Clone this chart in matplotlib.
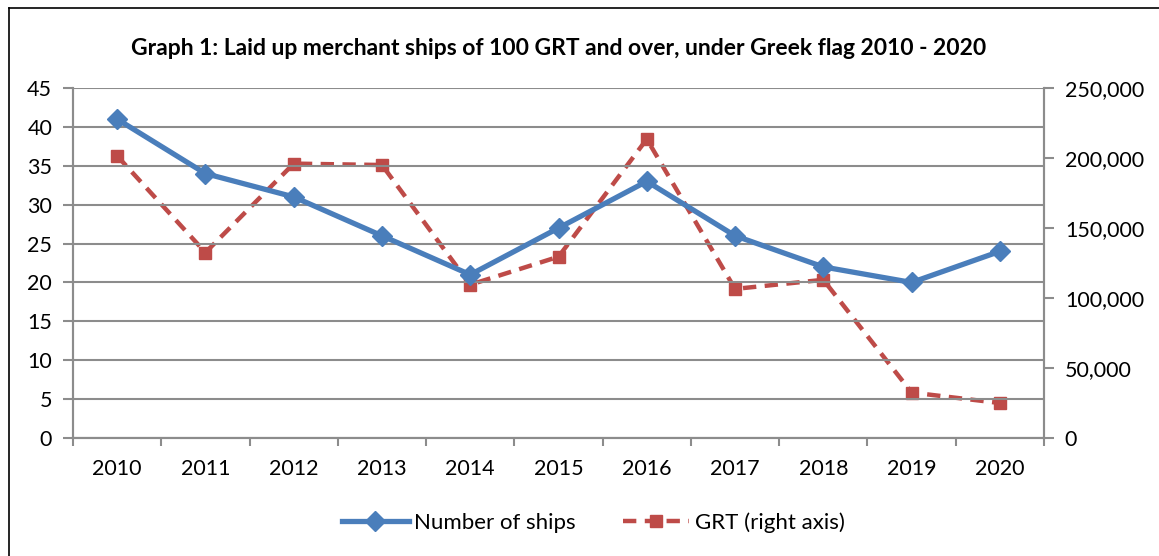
#!/usr/bin/env python3
"""Laid up merchant ships under Greek flag, 2010-2020."""

import numpy as np
import matplotlib
matplotlib.use('Agg')
import matplotlib.pyplot as plt
from matplotlib.ticker import FuncFormatter, FixedLocator

years = ['2010', '2011', '2012', '2013', '2014', '2015', '2016',
         '2017', '2018', '2019', '2020']
ships = [41, 34, 31, 26, 21, 27, 33, 26, 22, 20, 24]
grt = [201500, 132500, 196000, 195000, 109500, 129500, 213500,
       106500, 113000, 32500, 25000]

plt.rcParams['font.family'] = ['Lato', 'DejaVu Sans']

fig = plt.figure(figsize=(11.59, 5.56), dpi=100)
ax = fig.add_axes([0.063, 0.2122, 0.8378, 0.6295])
ax2 = ax.twinx()

x = np.arange(len(years))
blue = '#4A7EBB'
red = '#BE4B48'
grey = '#8C8C8C'

l1, = ax.plot(x, ships, color=blue, lw=3.8, marker='D', ms=10,
              label='Number of ships', zorder=3)
l2, = ax2.plot(x, grt, color=red, lw=3.2, ls=(0, (3.0, 1.9)), marker='s',
               ms=8.5, label='GRT (right axis)', zorder=2)
ax.set_zorder(ax2.get_zorder() + 1)
ax.patch.set_visible(False)

ax.set_xlim(-0.5, len(years) - 0.5)
ax.set_ylim(0, 45)
ax.set_yticks(range(0, 46, 5))
ax2.set_ylim(0, 250000)
ax2.set_yticks(range(0, 250001, 50000))
ax2.yaxis.set_major_formatter(FuncFormatter(lambda v, p: f'{int(v):,}'))

# category boundaries as ticks, labels in between
ax.xaxis.set_major_locator(FixedLocator(np.arange(-0.5, len(years), 1)))
ax.xaxis.set_major_formatter(FuncFormatter(lambda v, p: ''))
ax.set_xticks(x, minor=True)
ax.set_xticklabels(years, minor=True)
ax.tick_params(axis='x', which='minor', length=0, pad=15, labelsize=15.5)
ax.tick_params(axis='x', which='major', length=6, color=grey, width=1.5)
ax.tick_params(axis='y', length=7, color=grey, width=1.5, labelsize=15.5, pad=8)
ax2.tick_params(axis='y', length=7, color=grey, width=1.5, labelsize=15.5, pad=8)

ax.grid(axis='y', color=grey, lw=1.5)
ax.set_axisbelow(True)
for a in (ax, ax2):
    for s in a.spines.values():
        s.set_color(grey)
        s.set_linewidth(1.5)
    a.spines['top'].set_visible(False)

ax.set_title('Graph 1: Laid up merchant ships of 100 GRT and over, '
             'under Greek flag 2010 - 2020',
             fontsize=16.5, fontweight='bold', pad=24)

fig.legend(handles=[l1, l2], loc='center', bbox_to_anchor=(0.512, 0.06),
           ncol=2, frameon=False, fontsize=16, handlelength=3.0,
           columnspacing=2.1, handletextpad=0.25)

# outer chart border (left and top only are visible)
fig.add_artist(plt.Line2D([0.008, 0.008], [0, 0.986], color='black', lw=1.2,
                          transform=fig.transFigure))
fig.add_artist(plt.Line2D([0.008, 1], [0.986, 0.986], color='black', lw=1.2,
                          transform=fig.transFigure))

fig.savefig('out.png', dpi=100)
